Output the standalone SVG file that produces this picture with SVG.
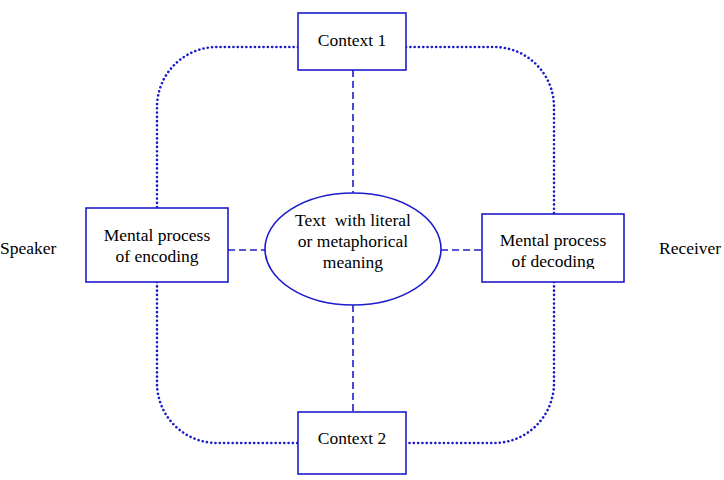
<svg xmlns="http://www.w3.org/2000/svg" width="724" height="480" viewBox="0 0 724 480">
<style>
.box{fill:#fff;stroke:#1c1ccc;stroke-width:1.6}
.dot{fill:none;stroke:#1c1cc8;stroke-width:2.6;stroke-dasharray:0.1 4.2;stroke-linecap:round}
.dash{fill:none;stroke:#1c1cc8;stroke-width:1.6;stroke-dasharray:7 4}
.t{font-family:'Liberation Serif','DejaVu Serif','Noto Serif',serif;font-size:17.5px;fill:#000;text-anchor:middle}
</style>
<defs>
<clipPath id="clipR"><rect x="482" y="214" width="142" height="55"/></clipPath>
</defs>
<rect width="724" height="480" fill="#fff"/>
<g id="connectors">
<path class="dot" d="M298,47 H217 A60,60 0 0 0 157,107 V208"/>
<path class="dot" d="M157,282 V383 A60,60 0 0 0 217,443 H298"/>
<path class="dot" d="M406,47 H494 A60,60 0 0 1 554,107 V214"/>
<path class="dot" d="M554,282 V383 A60,60 0 0 1 494,443 H406"/>
<path class="dash" d="M353,70 V193"/>
<path class="dash" d="M353,305 V412"/>
<path class="dash" d="M228,250 H265"/>
<path class="dash" d="M441,250 H482"/>
</g>
<g id="context1"><rect class="box" x="298" y="13" width="108" height="57"/><text class="t" x="352" y="46">Context 1</text></g>
<g id="context2"><rect class="box" x="298" y="412" width="108" height="62"/><text class="t" x="352" y="444">Context 2</text></g>
<g id="encoding"><rect class="box" x="86" y="208" width="142" height="74"/><text class="t" x="157" y="241">Mental process</text><text class="t" x="157" y="262">of encoding</text></g>
<g id="decoding"><rect class="box" x="482" y="214" width="142" height="68"/><g clip-path="url(#clipR)"><text class="t" x="553" y="246">Mental process</text><text class="t" x="553" y="267">of decoding</text></g></g>
<g id="text"><ellipse class="box" cx="353" cy="249" rx="88" ry="56"/><text class="t" x="353" y="226" xml:space="preserve">Text  with literal</text><text class="t" x="353" y="247">or metaphorical</text><text class="t" x="353" y="268">meaning</text></g>
<g id="speaker"><text class="t" x="0" y="254" style="text-anchor:start">Speaker</text></g>
<g id="receiver"><text class="t" x="659" y="254" style="text-anchor:start">Receiver</text></g>
</svg>
